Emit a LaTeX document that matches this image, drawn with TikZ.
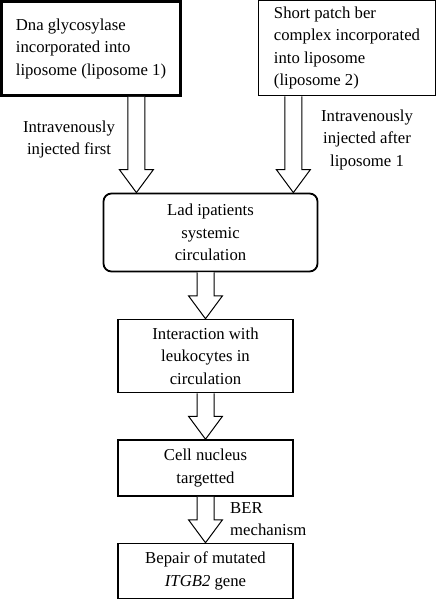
\documentclass[tikz,border=0pt]{standalone}
\usepackage{fontspec}
\setmainfont{Liberation Serif}
\usetikzlibrary{calc}
\newcommand{\flowfont}{\fontsize{16.7pt}{22.5pt}\selectfont}
\tikzset{
  % step box of the flow chart
  stepbox/.style={rectangle, draw, line width=1.5pt, fill=white, align=center,
                  minimum width=175pt, inner sep=3pt, font=\flowfont},
  % liposome box at the top
  lipobox/.style={stepbox, line width=#1, align=left},
  lipobox/.default={1.8pt},
  % rounded circulation box
  roundbox/.style={stepbox, line width=1.8pt, rounded corners=8pt},
  % label beside an arrow
  arrlabel/.style={font=\flowfont, align=center, inner sep=0pt},
  % hollow block arrow
  blockarrow/.style={draw, line width=1pt, fill=white, line join=miter},
}
% hollow block arrow from #1 down to tip #2
\newcommand{\blockarrow}[2]{%
  \draw[blockarrow] ($(#1)+(-8.5,0)$) -- ($(#2)+(-8.5,-23)$) -- ($(#2)+(-17,-23)$)
    -- (#2) -- ($(#2)+(17,-23)$) -- ($(#2)+(8.5,-23)$) -- ($(#1)+(8.5,0)$);}

\begin{document}
\begin{tikzpicture}[x=1pt, y=-1pt]
  \useasboundingbox (0,0) rectangle (437,600);
  % top boxes
  \node[lipobox=2.6pt, minimum width=179pt, minimum height=94pt] (lipo1) at (91,48.5)
    {Dna glycosylase\\incorporated into\\liposome (liposome 1)};
  \node[lipobox, minimum width=177pt, minimum height=95pt] (lipo2) at (347,48)
    {Short patch ber\\complex incorporated\\into liposome\\(liposome 2)};
  % flow boxes
  \node[roundbox, minimum width=214pt, minimum height=78pt] (circ) at (210.5,232.5)
    {Lad ipatients\\systemic\\circulation};
  \node[stepbox, minimum height=73pt] (leuko) at (205.5,356)
    {Interaction with\\leukocytes in\\circulation};
  \node[stepbox, minimum height=56pt] (nucleus) at (205.5,468)
    {Cell nucleus\\targetted};
  \node[stepbox, minimum height=55pt] (repair) at (205.5,571)
    {Bepair of mutated\\\textit{ITGB2} gene};

  % arrows
  \coordinate (a1) at ($(lipo1.south west)!0.75!(lipo1.south east)$);
  \coordinate (a2) at ($(lipo2.south west)!0.2!(lipo2.south east)$);
  \blockarrow{a1}{a1 |- circ.north}
  \blockarrow{a2}{a2 |- circ.north}
  \blockarrow{leuko.north |- circ.south}{leuko.north}
  \blockarrow{leuko.south}{nucleus.north}
  \blockarrow{nucleus.south}{repair.north}

  % arrow labels
  \node[arrlabel] (inj1) at (69,139.5) {Intravenously\\injected first};
  \node[arrlabel] (inj2) at (367,139.5) {Intravenously\\injected after\\liposome 1};
  \node[arrlabel, align=left, anchor=west] (ber) at (230,519) {BER\\mechanism};
\end{tikzpicture}
\end{document}
